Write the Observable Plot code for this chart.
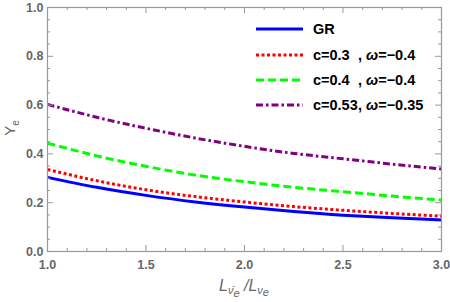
<!DOCTYPE html>
<html><head><meta charset="utf-8">
<script src="https://cdn.jsdelivr.net/npm/d3@7"></script>
<script src="https://cdn.jsdelivr.net/npm/@observablehq/plot@0.6"></script>
<style>body{margin:0;background:#fff}</style>
</head><body><div id="chart"></div>
<script>
const xs = [1.0, 1.25, 1.5, 1.75, 2.0, 2.25, 2.5, 2.75, 3.0];
const gr     = [0.304, 0.263, 0.230, 0.203, 0.182, 0.164, 0.149, 0.138, 0.129];
const c03    = [0.336, 0.290, 0.253, 0.225, 0.203, 0.184, 0.169, 0.156, 0.145];
const c04    = [0.444, 0.392, 0.349, 0.313, 0.286, 0.263, 0.245, 0.227, 0.211];
const c053   = [0.603, 0.550, 0.505, 0.465, 0.431, 0.402, 0.380, 0.358, 0.338];
const seriesNames = ["GR", "c=0.3", "c=0.4", "c=0.53"];
const omegas = [null, "−0.4", "−0.4", "−0.35"];
const xMajor = [1.0, 1.5, 2.0, 2.5, 3.0];
const yMajor = [0.0, 0.2, 0.4, 0.6, 0.8, 1.0];

const styles = [
  {stroke: "#0000ff", dash: null, w: 3},
  {stroke: "#ff0000", dash: "3,2.5", w: 3},
  {stroke: "#00ff00", dash: "8,4", w: 3},
  {stroke: "#800080", dash: "7,3,2.5,3", w: 3}
];
const allSeries = [gr, c03, c04, c053];
const rows = [];
allSeries.forEach((s, i) => s.forEach((v, j) => rows.push({x: xs[j], y: v, k: i})));

const W = 450, H = 302, mL = 47, mR = 9, mT = 7, mB = 51;
const pw = W - mL - mR, ph = H - mT - mB;
const xMinor = d3.range(1.0, 3.0001, 0.1).map(d => +d.toFixed(2));
const yMinor = d3.range(0, 1.0001, 0.05).map(d => +d.toFixed(2));
const isMajX = d => xMajor.some(m => Math.abs(m - d) < 1e-6);
const isMajY = d => yMajor.some(m => Math.abs(m - d) < 1e-6);
const tc = "#999";

const marks = [];
allSeries.forEach((s, i) => {
  marks.push(Plot.line(rows.filter(r => r.k === i), {
    x: "x", y: "y", curve: "natural", stroke: styles[i].stroke,
    strokeWidth: styles[i].w, strokeDasharray: styles[i].dash, strokeLinecap: "butt"
  }));
});
const xm = xMinor.filter(d => !isMajX(d)), ym = yMinor.filter(d => !isMajY(d));
marks.push(Plot.tickX(xMajor, {x: d => d, stroke: tc, insetTop: ph - 6}));
marks.push(Plot.tickX(xm, {x: d => d, stroke: tc, insetTop: ph - 3}));
marks.push(Plot.tickX(xMajor, {x: d => d, stroke: tc, insetBottom: ph - 6}));
marks.push(Plot.tickX(xm, {x: d => d, stroke: tc, insetBottom: ph - 3}));
marks.push(Plot.tickY(yMajor, {y: d => d, stroke: tc, insetRight: pw - 6}));
marks.push(Plot.tickY(ym, {y: d => d, stroke: tc, insetRight: pw - 3}));
marks.push(Plot.tickY(yMajor, {y: d => d, stroke: tc, insetLeft: pw - 6}));
marks.push(Plot.tickY(ym, {y: d => d, stroke: tc, insetLeft: pw - 3}));
marks.push(Plot.frame({stroke: tc, strokeWidth: 1.2}));
marks.push(Plot.axisX(xMajor, {tickSize: 0, tickPadding: 9, tickFormat: d3.format(".1f"),
  fontSize: 12.5, fontWeight: "bold", fill: "#666", label: null}));
marks.push(Plot.axisY(yMajor, {tickSize: 0, tickPadding: 4, tickFormat: d3.format(".1f"),
  fontSize: 12.5, fontWeight: "bold", fill: "#666", label: null}));

const svgEl = Plot.plot({
  width: W, height: H, marginLeft: mL, marginRight: mR, marginTop: mT, marginBottom: mB,
  style: {fontFamily: "Liberation Sans, Arial, sans-serif", background: "#fff"},
  x: {domain: [1, 3]}, y: {domain: [0, 1]},
  marks
});
document.getElementById("chart").appendChild(svgEl);
const svg = d3.select(svgEl);
const ff = "Liberation Sans, Arial, sans-serif";

// Y axis label
const yl = svg.append("text").attr("transform", "translate(15,128) rotate(-90)")
  .attr("text-anchor", "middle").attr("fill", "#666").attr("font-family", ff)
  .attr("font-size", 15);
yl.append("tspan").text("Y");
yl.append("tspan").attr("font-size", 10).attr("dy", 4).text("e");

// X axis label
const xl = svg.append("text").attr("x", 244).attr("y", 291).attr("text-anchor", "middle")
  .attr("fill", "#666").attr("font-family", ff).attr("font-size", 16).attr("font-style", "italic");
xl.append("tspan").text("L");
xl.append("tspan").attr("font-size", 11).attr("dy", 3).text("ν\u0304");
xl.append("tspan").attr("font-size", 11).attr("dy", 3).text("e");
xl.append("tspan").attr("dy", -6).text(" /L");
xl.append("tspan").attr("font-size", 11).attr("dy", 3).text("ν");
xl.append("tspan").attr("font-size", 11).attr("dy", 2).text("e");

// Legend
const lx0 = 256, lx1 = 303, tx = 313, commaX = 358, ly = [29, 55, 80, 105];
seriesNames.forEach((name, i) => {
  svg.append("line").attr("x1", lx0).attr("x2", lx1).attr("y1", ly[i]).attr("y2", ly[i])
    .attr("stroke", styles[i].stroke).attr("stroke-width", styles[i].w)
    .attr("stroke-dasharray", styles[i].dash);
  svg.append("text").attr("x", tx).attr("y", ly[i]).attr("dy", "0.35em").attr("text-anchor", "start")
    .attr("font-family", ff).attr("font-size", 14.5).attr("font-weight", "bold").attr("fill", "#000")
    .text(name);
  if (omegas[i]) {
    const t = svg.append("text").attr("x", commaX).attr("y", ly[i]).attr("dy", "0.35em")
      .attr("text-anchor", "start")
      .attr("font-family", ff).attr("font-size", 14.5).attr("font-weight", "bold").attr("fill", "#000");
    t.append("tspan").text(", ");
    t.append("tspan").attr("font-style", "italic").text("ω");
    t.append("tspan").text("=" + omegas[i]);
  }
});
</script></body></html>
